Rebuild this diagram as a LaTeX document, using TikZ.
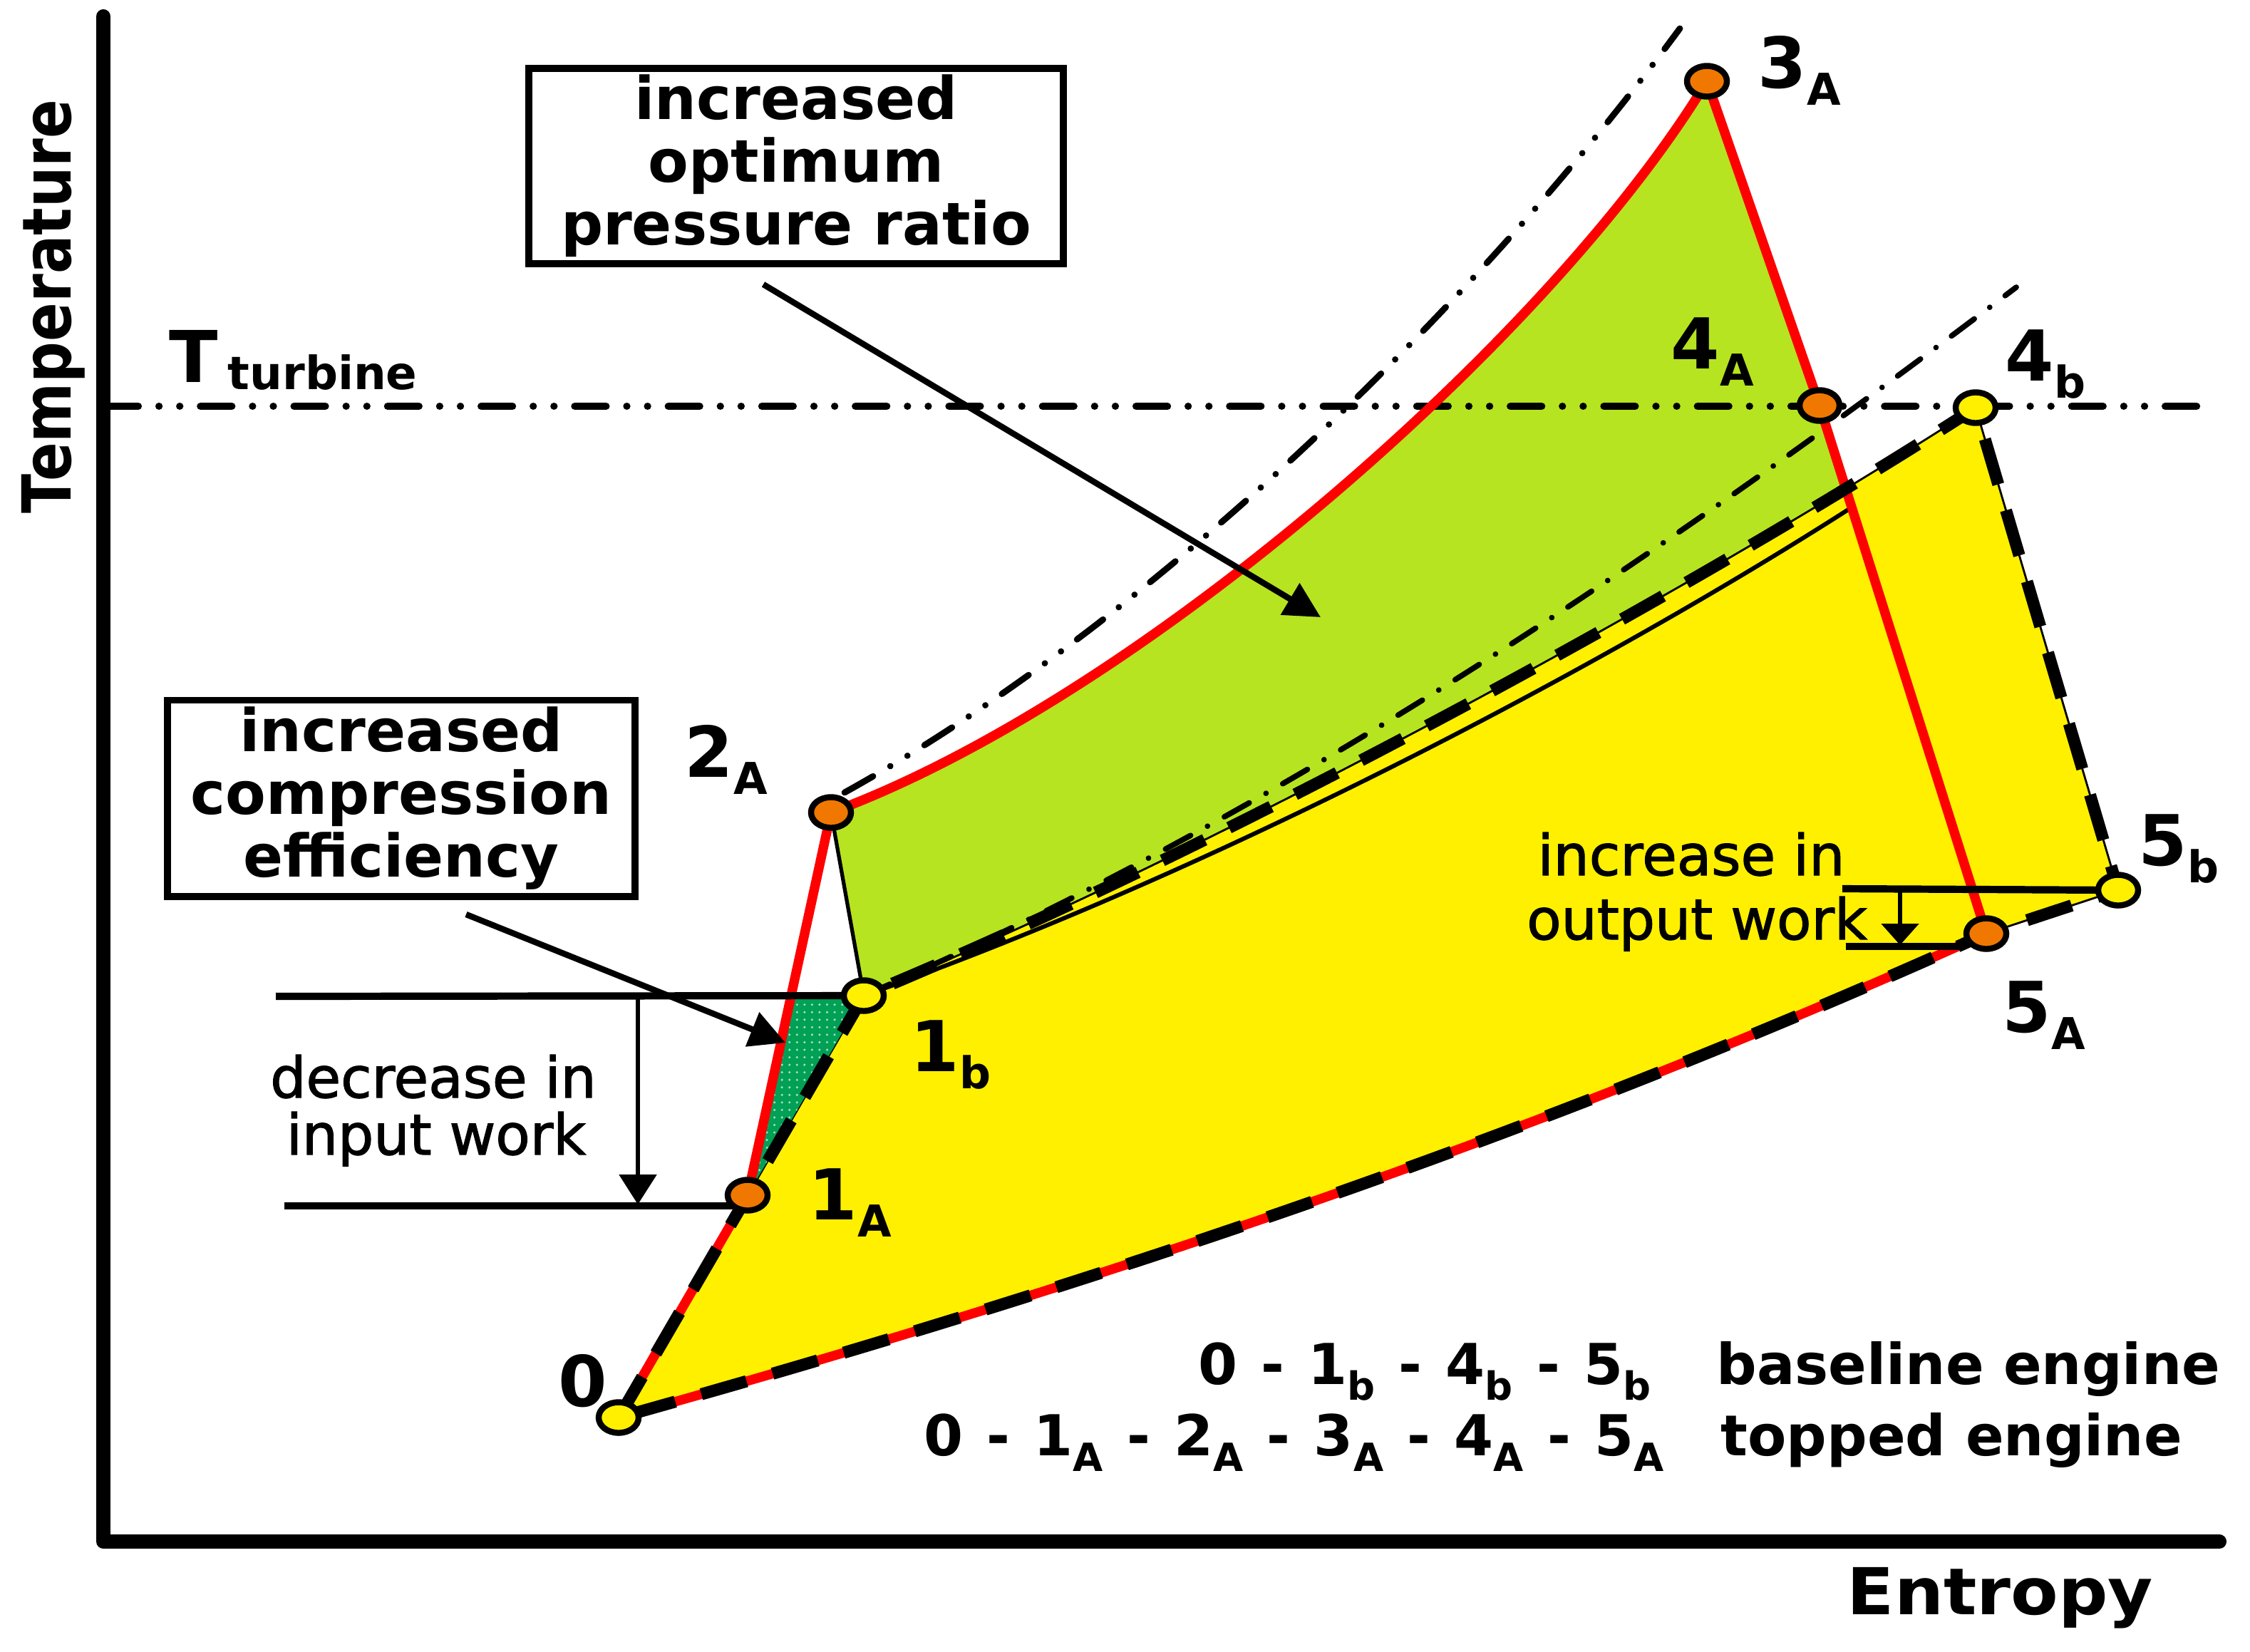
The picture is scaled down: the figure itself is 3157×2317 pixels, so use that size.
\documentclass[tikz,border=0pt]{standalone}
\usepackage{fontspec}
\setmainfont{DejaVu Sans}
\newfontfamily\semib{DejaVu Sans}[FakeBold=1.6]
\usepackage{graphicx}
\usetikzlibrary{arrows.meta,shapes.geometric,patterns}

\definecolor{cyel}{RGB}{255,240,0}
\definecolor{clime}{RGB}{182,228,32}
\definecolor{cred}{RGB}{255,0,0}
\definecolor{corange}{RGB}{240,120,0}
\definecolor{cdgreen}{RGB}{0,160,85}

\newcommand\ptl[2]{\fontsize{28}{28}\selectfont\bfseries #1\raisebox{-7pt}{\fontsize{17.5}{17.5}\selectfont #2}}
\newcommand\lgsub[1]{\raisebox{-6.5pt}{\fontsize{15.5}{15.5}\selectfont #1}}
\newcommand\lgsep{\hspace{0.42em}-\hspace{0.42em}}

\begin{document}
\begin{tikzpicture}[x=0.01cm,y=-0.01cm,
  axisl/.style={line width=5.7pt,line cap=round,line join=round},
  redl/.style={draw=cred,line width=3.8pt,line join=round},
  bdash/.style={line width=4.8pt,dash pattern=on 0.66cm off 0.38cm},
  tline/.style={line width=2.9pt,line cap=round,dash pattern=on 0.44cm off 0.29cm on 0.001cm off 0.29cm on 0.001cm off 0.29cm},
  ddline/.style={line width=2.5pt,line cap=round,dash pattern=on 0.46cm off 0.28cm on 0.001cm off 0.28cm on 0.001cm off 0.28cm},
  dline/.style={line width=2.2pt,line cap=round,dash pattern=on 0.4cm off 0.27cm on 0.001cm off 0.27cm},
  thinl/.style={line width=1.5pt},
  refl/.style={line width=2.9pt},
  callout/.style={line width=2.4pt,-{Triangle[length=0.5cm,width=0.5cm]}},
  varrow/.style={line width=1.6pt,-{Triangle[length=0.42cm,width=0.52cm]}},
  varrowsm/.style={line width=1.6pt,-{Triangle[length=0.3cm,width=0.52cm]}},
  opt/.style={ellipse,draw=black,line width=2.4pt,fill=corange,minimum width=0.56cm,minimum height=0.43cm,inner sep=0pt},
  ypt/.style={opt,fill=cyel},
  lbl/.style={inner sep=0pt,anchor=base west},
  boxn/.style={draw,line width=2.8pt,align=center,inner sep=0pt,font=\fontsize{23.5}{25}\selectfont\bfseries},
  note/.style={inner sep=0pt,anchor=base,font=\fontsize{22.5}{22.5}\semib},
  legend/.style={inner sep=0pt,font=\fontsize{22.5}{22.5}\selectfont\bfseries}
]
\useasboundingbox (0,0) rectangle (3157,2317);

% state points
\coordinate (P0)  at (868,1989);
\coordinate (P1A) at (1049,1677);
\coordinate (P1b) at (1212,1397);
\coordinate (P2A) at (1166,1140);
\coordinate (P3A) at (2395,114);
\coordinate (P4A) at (2553,569);
\coordinate (P4b) at (2772,572);
\coordinate (P5A) at (2787,1310);
\coordinate (P5b) at (2972,1249);
\coordinate (Ptri) at (1110,1394);

% fills
\fill[clime] (P2A) .. controls (1600,980) and (2180,470) .. (P3A) -- (P4A) -- (P5A) -- (P1b) -- cycle;
\filldraw[fill=cyel,draw=black,line width=0.8pt] (P0) -- (P1b) .. controls (1713,1190) and (2372,830) .. (P4b) -- (P5b) -- (P5A) .. controls (2147,1599) and (1510,1810) .. (P0) -- cycle;
\fill[cdgreen] (P1A) -- (Ptri) -- (P1b) -- cycle;
\fill[pattern=dots,pattern color=white!65!cdgreen] (P1A) -- (Ptri) -- (P1b) -- cycle;

% auxiliary isobars
\coordinate (U0) at (1185,1112);
\coordinate (U1) at (2357,40);
\draw[ddline] (U0) .. controls (1585,890) and (2040,470) .. (U1);
\coordinate (D1) at (2829,403);
\draw[dline] (P1b) .. controls (1760,1160) and (2279,820) .. (D1);
\coordinate (S1) at (2598,712);
\draw[line width=1.7pt] (P1b) .. controls (1700,1225) and (2250,935) .. (S1);
\draw[thinl] (P2A) -- (P1b);

% turbine temperature line
\coordinate (T0) at (150,570);
\coordinate (T1) at (3100,570);
\draw[tline] (T0) -- (T1);

% topped engine (red)
\draw[redl] (P0) -- (P1A) -- (P2A) .. controls (1600,980) and (2180,470) .. (P3A) -- (P4A) -- (P5A) .. controls (2147,1599) and (1510,1810) .. (P0);

% baseline engine (thick dashed)
\draw[bdash] (P0) -- (P1b) .. controls (1713,1190) and (2372,830) .. (P4b) -- (P5b) -- (P5A) .. controls (2147,1599) and (1510,1810) .. (P0);

% axes
\coordinate (AxT) at (145,23);
\coordinate (AxO) at (145,2163);
\coordinate (AxR) at (3114,2163);
\draw[axisl] (AxT) -- (AxO) -- (AxR);

% decrease in input work
\coordinate (dA) at (387,1398);
\draw[refl] (dA) -- (P1b);
\coordinate (dB) at (399,1692);
\coordinate (dBe) at (1030,1692);
\draw[refl] (dB) -- (dBe);
\coordinate (dV1) at (895,1398);
\coordinate (dV2) at (895,1690);
\draw[varrow] (dV1) -- (dV2);
\node[note] (dec1) at (608,1540) {decrease in};
\node[note] (dec2) at (612,1620) {input work};

% increase in output work
\coordinate (iA) at (2585,1247);
\draw[refl] (iA) -- (P5b);
\coordinate (iB) at (2590,1328);
\coordinate (iBe) at (2750,1328);
\draw[refl] (iB) -- (iBe);
\coordinate (iV1) at (2666,1247);
\coordinate (iV2) at (2666,1326);
\draw[varrowsm] (iV1) -- (iV2);
\node[note] (inc1) at (2373,1228) {increase in};
\node[note] (inc2) at (2381,1318) {output work};

% boxes and callouts
\node[boxn,minimum width=7.5cm,minimum height=2.74cm] (box1) at (1117,233) {increased\\optimum\\pressure ratio};
\node[boxn,minimum width=6.56cm,minimum height=2.75cm] (box2) at (563,1120) {increased\\compression\\efficiency};
\coordinate (c1s) at (1071,399);
\coordinate (c1e) at (1853,866);
\draw[callout] (c1s) -- (c1e);
\coordinate (c2s) at (654,1283);
\coordinate (c2e) at (1102,1463);
\draw[callout] (c2s) -- (c2e);

% axis labels
\node[rotate=90,anchor=base,inner sep=0pt] (ylab) at (100,430) {\scalebox{0.85}[1]{\fontsize{27}{27}\selectfont\bfseries Temperature}};
\node[lbl] (xlab) at (2591,2265) {\scalebox{1.07}[1]{\fontsize{25.8}{25.8}\selectfont\bfseries Entropy}};
\node[lbl] (tT) at (237,536) {\fontsize{28.5}{28.5}\selectfont\bfseries T};
\node[lbl] (tsub) at (319,546) {\fontsize{18.3}{18.3}\selectfont\bfseries turbine};

% legend
\node[legend,anchor=base east] (lg1) at (2317,1942) {0\lgsep 1\lgsub{b}\lgsep 4\lgsub{b}\lgsep 5\lgsub{b}};
\node[legend,anchor=base west] (lg1t) at (2408,1942) {baseline engine};
\node[legend,anchor=base east] (lg2) at (2335,2042) {0\lgsep 1\lgsub{A}\lgsep 2\lgsub{A}\lgsep 3\lgsub{A}\lgsep 4\lgsub{A}\lgsep 5\lgsub{A}};
\node[legend,anchor=base west] (lg2t) at (2414,2042) {topped engine};

% point markers
\node[ypt] (n0)  at (P0)  {};
\node[opt] (n1A) at (P1A) {};
\node[ypt] (n1b) at (P1b) {};
\node[opt] (n2A) at (P2A) {};
\node[opt] (n3A) at (P3A) {};
\node[opt] (n4A) at (P4A) {};
\node[ypt] (n4b) at (P4b) {};
\node[opt] (n5A) at (P5A) {};
\node[ypt] (n5b) at (P5b) {};

% point labels
\node[lbl] (l0)  at (783,1973)  {\ptl{0}{}};
\node[lbl] (l1A) at (1134,1711) {\ptl{1}{A}};
\node[lbl] (l1b) at (1277,1503) {\ptl{1}{b}};
\node[lbl] (l2A) at (960,1090)  {\ptl{2}{A}};
\node[lbl] (l3A) at (2466,123)  {\ptl{3}{A}};
\node[lbl] (l4A) at (2344,517)  {\ptl{4}{A}};
\node[lbl] (l4b) at (2813,534)  {\ptl{4}{b}};
\node[lbl] (l5A) at (2809,1448) {\ptl{5}{A}};
\node[lbl] (l5b) at (3000,1214) {\ptl{5}{b}};
\end{tikzpicture}
\end{document}
